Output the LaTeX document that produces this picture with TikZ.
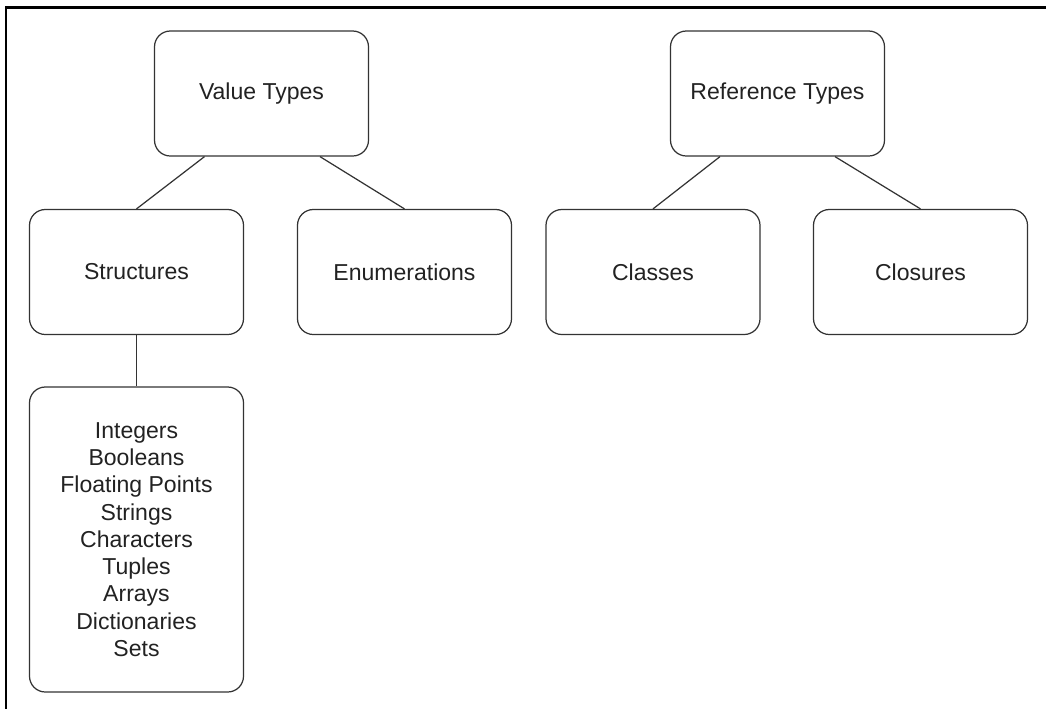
\documentclass[tikz,border=0pt]{standalone}
\usepackage{fontspec}
\setmainfont{Liberation Sans}
\usepackage{tikz}
\usetikzlibrary{positioning, calc}
\definecolor{boxline}{HTML}{333333}
\definecolor{boxtext}{HTML}{222222}

\begin{document}
\begin{tikzpicture}[
    typebox/.style={rectangle, rounded corners=9pt, draw=boxline, line width=0.7pt, fill=white, minimum width=4.28cm, minimum height=2.5cm, align=center, font=\fontsize{13.1}{15.5}\selectfont\color{boxtext}},
    link/.style={draw=boxline, line width=0.7pt},
]
\useasboundingbox (0,0) rectangle (20.92,-14.16);
\draw[line width=1.2pt] (0.12,-14.3) -- (0.12,-0.15) -- (21.1,-0.15);

\node[typebox] (vt) at (5.23,-1.87) {Value Types};
\node[typebox] (rt) at (15.55,-1.87) {Reference Types};

\node[typebox] (st) at (2.73,-5.44) {Structures};
\node[typebox] (en) at (8.09,-5.44) {Enumerations};
\node[typebox] (cl) at (13.06,-5.44) {Classes};
\node[typebox] (co) at (18.41,-5.44) {Closures};

\node[typebox, minimum height=6.1cm] (li) at (2.73,-10.79) {Integers\\Booleans\\Floating Points\\Strings\\Characters\\Tuples\\Arrays\\Dictionaries\\Sets};

\draw[link] ([xshift=-1.14cm]vt.south) -- (st.north);
\draw[link] ([xshift=1.17cm]vt.south) -- (en.north);
\draw[link] ([xshift=-1.15cm]rt.south) -- (cl.north);
\draw[link] ([xshift=1.15cm]rt.south) -- (co.north);
\draw[link] (st.south) -- (li.north);

\end{tikzpicture}
\end{document}
